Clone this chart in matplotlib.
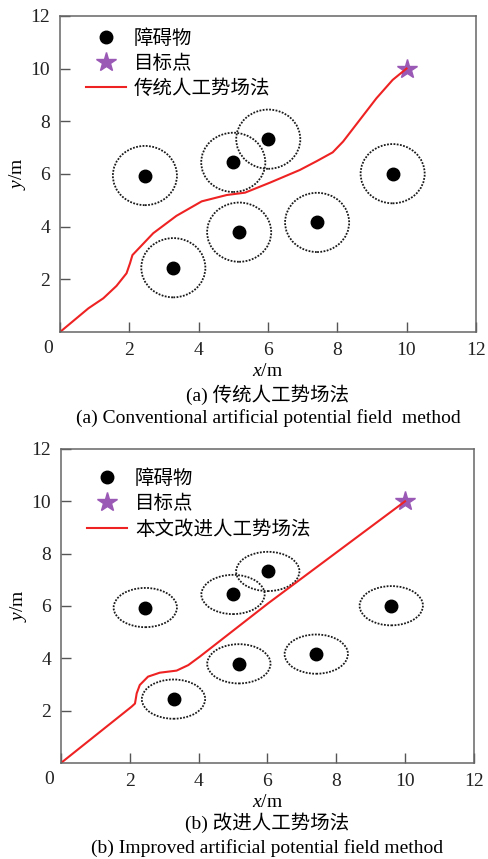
import matplotlib

matplotlib.use("Agg")
import matplotlib.pyplot as plt
from matplotlib.patches import Ellipse

plt.rcParams["font.family"] = ["Liberation Serif", "Noto Sans CJK SC"]
plt.rcParams["mathtext.fontset"] = "custom"
plt.rcParams["mathtext.it"] = "Liberation Serif:italic"
plt.rcParams["mathtext.rm"] = "Liberation Serif"

# obstacle centres (m)
OBS_X = [2.45, 3.27, 5.0, 6.01, 5.17, 7.42, 9.6]
OBS_Y = [5.94, 2.44, 6.44, 7.32, 3.79, 4.16, 6.01]
GOAL = (10, 10)

# influence-zone sizes (full width / height in m)
ZONE_A = (1.85, 2.25)
ZONE_B = (1.84, 1.50)

# (a) conventional APF path
PATH_A_X = [0, 0.82, 1.25, 1.63, 1.92, 2.02, 2.09, 2.69, 3.36, 4.09, 4.81, 5.34,
            6.06, 6.92, 7.4, 7.87, 8.17, 8.65, 9.13, 9.6, 10]
PATH_A_Y = [0, 0.9, 1.28, 1.75, 2.23, 2.61, 2.92, 3.75, 4.41, 4.96, 5.2, 5.29,
            5.67, 6.15, 6.48, 6.82, 7.23, 8.05, 8.87, 9.57, 10]

# (b) improved APF path
PATH_B_X = [0, 2.05, 2.15, 2.18, 2.2, 2.29, 2.53, 2.87, 3.36, 3.7, 4.03, 6.02, 10]
PATH_B_Y = [0, 2.15, 2.27, 2.5, 2.66, 2.98, 3.3, 3.45, 3.53, 3.74, 4.06, 6.1, 10]

PANELS = [
    dict(rect=[0.123, 0.6135, 0.852, 0.368], px=PATH_A_X, py=PATH_A_Y, zone=ZONE_A,
         label="传统人工势场法", cap1="(a) 传统人工势场法",
         cap2="(a) Conventional artificial potential field  method",
         leg_y=0.995, cap_y=(-0.199, -0.272)),
    dict(rect=[0.125, 0.1118, 0.846, 0.3655], px=PATH_B_X, py=PATH_B_Y, zone=ZONE_B,
         label="本文改进人工势场法", cap1="(b) 改进人工势场法",
         cap2="(b) Improved artificial potential field method",
         leg_y=0.972, cap_y=(-0.191, -0.271)),
]

fig = plt.figure(figsize=(4.88, 8.59), dpi=100)

for p in PANELS:
    ax = fig.add_axes(p["rect"])
    for x, y in zip(OBS_X, OBS_Y):
        ax.add_patch(Ellipse((x, y), p["zone"][0], p["zone"][1], fill=False,
                             edgecolor="#1a1a1a", lw=1.3, ls=(0, (1, 0.8))))
    ax.plot(OBS_X, OBS_Y, "o", color="black", ms=9, ls="none", label="障碍物")
    ax.plot(*GOAL, "*", color="#9b59b6", ms=15, ls="none", label="目标点")
    ax.plot(p["px"], p["py"], color="#ee2222", lw=1.5, label=p["label"])

    ax.set_xlim(0, 12)
    ax.set_ylim(0, 12)
    ax.set_xticks(range(0, 13, 2))
    ax.set_yticks(range(2, 13, 2))
    ax.tick_params(direction="in", length=7, width=1, color="#555555",
                   labelsize=14, pad=7, labelcolor="#222222")
    for s in ax.spines.values():
        s.set_color("#666666")
        s.set_linewidth(1.1)
    ax.set_yticklabels(["2", "4", "6", "8", "10", "12"])
    ax.set_xticklabels(["", "2", "4", "6", "8", "10", "12"])
    # shared origin label, left of the corner
    ax.text(-0.029, -0.025, "0", transform=ax.transAxes, ha="center", va="top",
            fontsize=14, color="#222222")

    ax.set_xlabel(r"$x$/m", fontsize=14, labelpad=3)
    ax.set_ylabel(r"$y$/m", fontsize=14, labelpad=2)

    ax.legend(loc="upper left", bbox_to_anchor=(0.035, p["leg_y"]), frameon=False,
              fontsize=14, handlelength=2.06, handletextpad=0.4, labelspacing=0.35,
              borderaxespad=0.2)

    ax.text(0.5, p["cap_y"][0], p["cap1"], transform=ax.transAxes, ha="center",
            va="center", fontsize=14)
    ax.text(0.5, p["cap_y"][1], p["cap2"], transform=ax.transAxes, ha="center",
            va="center", fontsize=14)

fig.savefig("out.png", dpi=100)
